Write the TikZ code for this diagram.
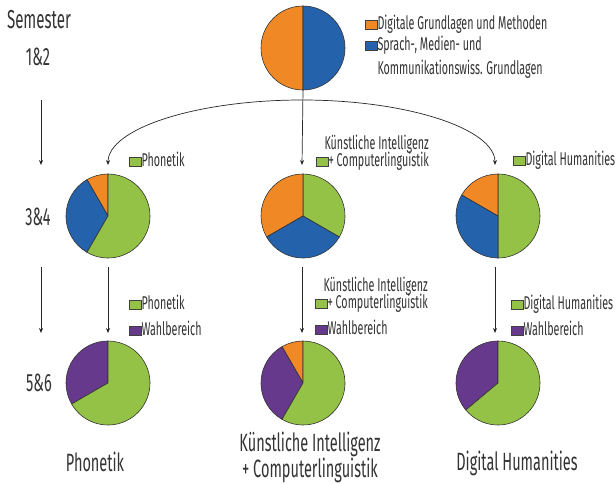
\documentclass[tikz,border=0pt]{standalone}
\usepackage{fontspec}
\IfFontExistsTF{FiraSans-Light.otf}
  {\setmainfont{FiraSans-Light.otf}[FakeStretch=0.58]}
  {\setmainfont{Fira Sans}[FakeStretch=0.58]}
\usetikzlibrary{positioning,arrows.meta}

\definecolor{dgorange}{RGB}{240,136,38}
\definecolor{smkblue}{RGB}{36,98,172}
\definecolor{fachgreen}{RGB}{147,194,71}
\definecolor{wahlpurple}{RGB}{103,57,140}

\newcommand{\pieslice}[4]{%
  \filldraw[slice, fill=#4] (#1) -- ++(#2:42pt) arc[start angle=#2, end angle=#3, radius=42pt] -- cycle;}

\begin{document}
\begin{tikzpicture}[x=1pt, y=-1pt,
    slice/.style={draw=black!80, line width=0.6pt, line join=round},
    pie/.style={circle, minimum size=84pt, inner sep=0},
    key/.style={draw=black!75, line width=0.6pt, minimum width=12pt,
      minimum height=9pt, inner sep=0},
    legtext/.style={font=\fontsize{18.5}{18.5}\selectfont, text=black!80,
      inner sep=0, text height=12.5pt, text depth=3.5pt},
    semtext/.style={font=\fontsize{25}{19}\selectfont, text=black!80,
      inner sep=0},
    flow/.style={draw=black!85, line width=0.7pt,
      -{Stealth[length=5pt,width=4pt]}}]
  \useasboundingbox (0,0) rectangle (616,484);

  \node[pie] (top) at (303,48) {};
  \node[pie] (ph34) at (108,216) {};
  \node[pie] (ki34) at (303,216) {};
  \node[pie] (dh34) at (498,216) {};
  \node[pie] (ph56) at (108,383) {};
  \node[pie] (ki56) at (303,383) {};
  \node[pie] (dh56) at (498,383) {};

  \pieslice{top.center}{90}{270}{dgorange}
  \pieslice{top.center}{-90}{90}{smkblue}

  \pieslice{ph34.center}{90}{120}{dgorange}
  \pieslice{ph34.center}{120}{240}{smkblue}
  \pieslice{ph34.center}{240}{450}{fachgreen}

  \pieslice{ki34.center}{-30}{90}{fachgreen}
  \pieslice{ki34.center}{90}{210}{dgorange}
  \pieslice{ki34.center}{210}{330}{smkblue}

  \pieslice{dh34.center}{-90}{90}{fachgreen}
  \pieslice{dh34.center}{90}{150}{dgorange}
  \pieslice{dh34.center}{150}{270}{smkblue}

  \pieslice{ph56.center}{90}{210}{wahlpurple}
  \pieslice{ph56.center}{210}{450}{fachgreen}

  \pieslice{ki56.center}{90}{120}{dgorange}
  \pieslice{ki56.center}{120}{240}{wahlpurple}
  \pieslice{ki56.center}{240}{450}{fachgreen}

  \pieslice{dh56.center}{90}{220}{wahlpurple}
  \pieslice{dh56.center}{220}{450}{fachgreen}

  \coordinate (apex) at (302,100);
  \coordinate (in-ph34) at (108,165);
  \coordinate (in-ki34) at (302,165);
  \coordinate (in-dh34) at (495,165);
  \coordinate (out-ph34) at (108,267);
  \coordinate (out-ki34) at (302,267);
  \coordinate (out-dh34) at (495,267);
  \coordinate (in-ph56) at (108,333);
  \coordinate (in-ki56) at (302,333);
  \coordinate (in-dh56) at (495,333);
  \coordinate (sem-a) at (41,100);
  \coordinate (sem-b) at (41,165);
  \coordinate (sem-c) at (41,267);
  \coordinate (sem-d) at (41,333);

  \draw[flow] (top.south) -- (in-ki34);
  \draw[flow] (apex) .. controls +(-107,0) and +(0,-36) .. (in-ph34);
  \draw[flow] (apex) .. controls +(106,0) and +(0,-36) .. (in-dh34);
  \draw[flow] (out-ph34) -- (in-ph56);
  \draw[flow] (out-ki34) -- (in-ki56);
  \draw[flow] (out-dh34) -- (in-dh56);
  \draw[flow] (sem-a) -- (sem-b);
  \draw[flow] (sem-c) -- (sem-d);

  \node[semtext, font=\fontsize{26}{26}\selectfont] (sem) at (39,20) {Semester};
  \node[semtext] (y12) at (38,57) {1\&2};
  \node[semtext] (y34) at (38,217) {3\&4};
  \node[semtext] (y56) at (39,383) {5\&6};

  \node[semtext] (lab-ph) at (95,462) {Phonetik};
  \node[semtext, align=center] (lab-ki) at (310,457) {Künstliche Intelligenz\\+ Computerlinguistik};
  \node[semtext] (lab-dh) at (517,463) {Digital Humanities};

  \node[key, fill=dgorange] (k-dg) at (371,25) {};
  \node[legtext, right=0pt of k-dg] (t-dg) {Digitale Grundlagen und Methoden};
  \node[key, fill=smkblue] (k-smk) at (371,46) {};
  \node[legtext, right=0pt of k-smk] (t-smk) {Sprach-, Medien- und};
  \node[legtext, below=8pt of t-smk.south west, anchor=north west] (t-smk2) {Kommunikationswiss. Grundlagen};

  \node[key, fill=fachgreen] (k-ph34) at (135,162) {};
  \node[legtext, right=0pt of k-ph34] (t-ph34) {Phonetik};
  \node[key, fill=fachgreen] (k-ki34) at (322,162) {};
  \node[legtext, right=0pt of k-ki34] (t-ki34b) {+ Computerlinguistik};
  \node[legtext, above=1pt of t-ki34b.north east, anchor=south east] (t-ki34a) {Künstliche Intelligenz};
  \node[key, fill=fachgreen] (k-dh34) at (519,161) {};
  \node[legtext, right=0pt of k-dh34] (t-dh34) {Digital Humanities};

  \node[key, fill=fachgreen] (k-ph56) at (135,305) {};
  \node[legtext, right=0pt of k-ph56] (t-ph56) {Phonetik};
  \node[key, fill=wahlpurple] (w-ph56) at (135,331) {};
  \node[legtext, right=0pt of w-ph56] (tw-ph56) {Wahlbereich};
  \node[key, fill=fachgreen] (k-ki56) at (321,304) {};
  \node[legtext, right=0pt of k-ki56] (t-ki56b) {+ Computerlinguistik};
  \node[legtext, above=1pt of t-ki56b.north east, anchor=south east] (t-ki56a) {Künstliche Intelligenz};
  \node[key, fill=wahlpurple] (w-ki56) at (321,330) {};
  \node[legtext, right=0pt of w-ki56] (tw-ki56) {Wahlbereich};
  \node[key, fill=fachgreen] (k-dh56) at (517,305) {};
  \node[legtext, right=0pt of k-dh56] (t-dh56) {Digital Humanities};
  \node[key, fill=wahlpurple] (w-dh56) at (517,331) {};
  \node[legtext, right=0pt of w-dh56] (tw-dh56) {Wahlbereich};
\end{tikzpicture}
\end{document}
